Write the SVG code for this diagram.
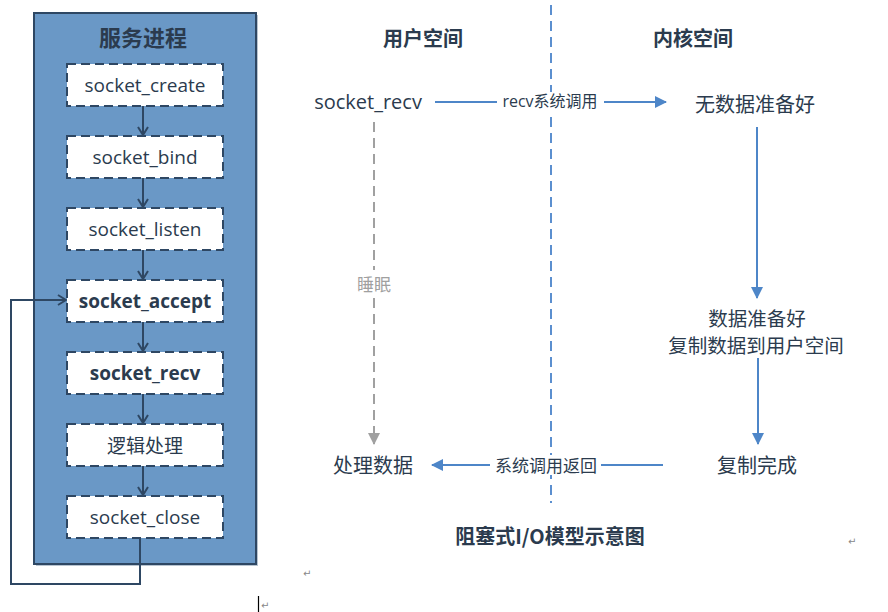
<svg xmlns="http://www.w3.org/2000/svg" width="888" height="612" viewBox="0 0 888 612">
<style>
.t{font-family:"Open Sans","Noto Sans CJK SC",sans-serif;fill:#2B3B4E;text-anchor:middle;dominant-baseline:central}
.cj{font-family:"Noto Sans CJK SC",sans-serif;fill:#2B3B4E;text-anchor:middle;dominant-baseline:central}
.b{font-weight:bold}
.box{fill:#ffffff;stroke:#2E4763;stroke-width:2;stroke-dasharray:9 5}
.dk{fill:none;stroke:#2E4763;stroke-width:2}
.bl{fill:none;stroke:#4E86C8;stroke-width:2}
.gr{fill:none;stroke:#A0A0A0;stroke-width:2;stroke-dasharray:10 6}
.mk{font-family:"DejaVu Sans",sans-serif;fill:#888;font-size:10px}
</style>
<defs>
<marker id="openDk" viewBox="0 0 10 12" refX="9" refY="6" markerWidth="10" markerHeight="12" markerUnits="userSpaceOnUse" orient="auto">
<path d="M1,1 L9,6 L1,11" fill="none" stroke="#2E4763" stroke-width="2"/>
</marker>
<marker id="triBl" viewBox="0 0 12 12" refX="11" refY="6" markerWidth="12" markerHeight="12" markerUnits="userSpaceOnUse" orient="auto">
<path d="M0,0 L12,6 L0,12 Z" fill="#4E86C8"/>
</marker>
<marker id="triGr" viewBox="0 0 12 12" refX="11" refY="6" markerWidth="12" markerHeight="12" markerUnits="userSpaceOnUse" orient="auto">
<path d="M0,0 L12,6 L0,12 Z" fill="#A0A0A0"/>
</marker>
</defs>
<rect width="888" height="612" fill="#ffffff"/>

<g id="service-process">
<rect x="36" y="15" width="222" height="551" fill="#B8C4D0"/>
<rect x="34" y="13" width="222" height="551" fill="#6A98C6" stroke="#2E4763" stroke-width="2"/>
<text class="cj b" x="143" y="36" font-size="22">服务进程</text>
</g>

<g id="connectors">
<line class="dk" x1="143" y1="106" x2="143" y2="135" marker-end="url(#openDk)"/>
<line class="dk" x1="143" y1="178" x2="143" y2="207" marker-end="url(#openDk)"/>
<line class="dk" x1="143" y1="250" x2="143" y2="279" marker-end="url(#openDk)"/>
<line class="dk" x1="143" y1="322" x2="143" y2="351" marker-end="url(#openDk)"/>
<line class="dk" x1="143" y1="394" x2="143" y2="423" marker-end="url(#openDk)"/>
<line class="dk" x1="143" y1="466" x2="143" y2="495" marker-end="url(#openDk)"/>
<path class="dk" d="M140,538 L140,584 L11,584 L11,300 L66,300" marker-end="url(#openDk)"/>
<line x1="551" y1="5" x2="551" y2="503" stroke="#5B8FCF" stroke-width="2" stroke-dasharray="10 6"/>
<line class="bl" x1="435" y1="102" x2="666" y2="102" marker-end="url(#triBl)"/>
<line class="bl" x1="757" y1="127" x2="757" y2="298" marker-end="url(#triBl)"/>
<line class="bl" x1="758" y1="358" x2="758" y2="444" marker-end="url(#triBl)"/>
<line class="bl" x1="663" y1="465" x2="432" y2="465" marker-end="url(#triBl)"/>
<line class="gr" x1="374" y1="122" x2="374" y2="444" marker-end="url(#triGr)"/>
<rect x="497" y="92" width="107" height="20" fill="#ffffff"/>
<text class="t" x="550" y="101" font-size="16">recv系统调用</text>
<rect x="490" y="455" width="111" height="20" fill="#ffffff"/>
<text class="cj" x="546" y="464" font-size="17">系统调用返回</text>
<rect x="354" y="270" width="40" height="26" fill="#ffffff"/>
<text class="cj" x="374" y="283" font-size="17" style="fill:#A0A0A0">睡眠</text>
</g>

<g id="socket_create">
<rect class="box" x="67" y="64" width="156" height="42"/>
<text class="t" x="145" y="85" font-size="19">socket_create</text>
</g>
<g id="socket_bind">
<rect class="box" x="67" y="136" width="156" height="42"/>
<text class="t" x="145" y="157" font-size="19">socket_bind</text>
</g>
<g id="socket_listen">
<rect class="box" x="67" y="208" width="156" height="42"/>
<text class="t" x="145" y="229" font-size="19">socket_listen</text>
</g>
<g id="socket_accept">
<rect class="box" x="67" y="280" width="156" height="42"/>
<text class="t b" x="145" y="301" font-size="19">socket_accept</text>
</g>
<g id="socket_recv_box">
<rect class="box" x="67" y="352" width="156" height="42"/>
<text class="t b" x="145" y="373" font-size="19">socket_recv</text>
</g>
<g id="logic">
<rect class="box" x="67" y="424" width="156" height="42"/>
<text class="cj" x="145" y="444" font-size="19">逻辑处理</text>
</g>
<g id="socket_close">
<rect class="box" x="67" y="496" width="156" height="42"/>
<text class="t" x="145" y="517" font-size="19">socket_close</text>
</g>

<g id="user-space-title"><text class="cj b" x="423" y="37" font-size="20">用户空间</text></g>
<g id="kernel-space-title"><text class="cj b" x="693" y="37" font-size="20">内核空间</text></g>
<g id="user-recv"><text class="t" x="368" y="101" font-size="20">socket_recv</text></g>
<g id="no-data"><text class="cj" x="755" y="103" font-size="20">无数据准备好</text></g>
<g id="data-ready">
<text class="cj" x="757" y="317" font-size="19.5">数据准备好</text>
<text class="cj" x="756" y="344" font-size="19.5">复制数据到用户空间</text>
</g>
<g id="copy-done"><text class="cj" x="757" y="464" font-size="20">复制完成</text></g>
<g id="process-data"><text class="cj" x="373" y="464" font-size="20">处理数据</text></g>
<g id="caption"><text class="cj b" x="550" y="535" font-size="20">阻塞式I/O模型示意图</text></g>

<g id="marks">
<text class="mk" x="303" y="577">↵</text>
<text class="mk" x="848" y="545">↵</text>
<text class="mk" x="261" y="609" font-size="7">↵</text>
<line x1="258.5" y1="596" x2="258.5" y2="612" stroke="#000" stroke-width="1.2"/>
</g>
</svg>
